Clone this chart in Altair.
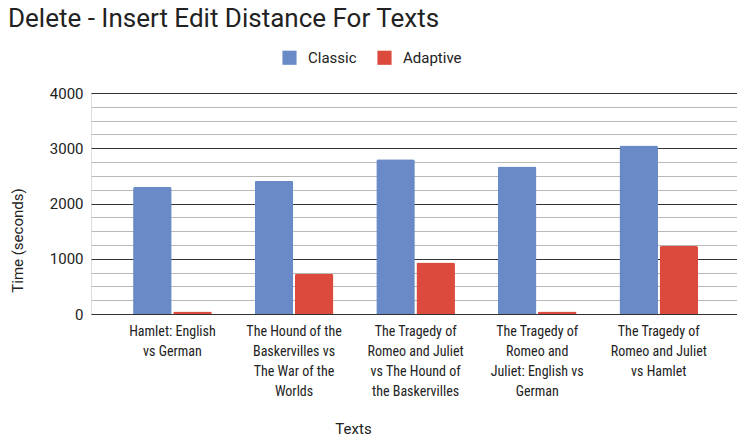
import altair as alt
import pandas as pd

# Category labels, one list of wrapped lines per text pair
text_lines = [
    ["Hamlet: English", "vs German"],
    ["The Hound of the", "Baskervilles vs", "The War of the", "Worlds"],
    ["The Tragedy of", "Romeo and Juliet", "vs The Hound of", "the Baskervilles"],
    ["The Tragedy of", "Romeo and", "Juliet: English vs", "German"],
    ["The Tragedy of", "Romeo and Juliet", "vs Hamlet"],
]
series = ["Classic", "Adaptive"]
classic_times = [2300, 2410, 2800, 2670, 3050]
adaptive_times = [45, 730, 930, 45, 1230]
y_ticks = list(range(0, 4001, 250))

categories = ["\n".join(lines) for lines in text_lines]
rows = []
for cat, c, a in zip(categories, classic_times, adaptive_times):
    rows.append({"text": cat, "method": "Classic", "time": c})
    rows.append({"text": cat, "method": "Adaptive", "time": a})
df = pd.DataFrame(rows)

FONT = "Roboto"
NARROW = "Liberation Sans Narrow, Roboto Condensed, Roboto"

bars = alt.Chart(df).mark_bar(
    cornerRadiusTopLeft=2, cornerRadiusTopRight=2
).encode(
    x=alt.X(
        "text:N",
        sort=categories,
        scale=alt.Scale(paddingInner=0.353, paddingOuter=0.333, align=0.52),
        axis=alt.Axis(
            title="Texts",
            labelAngle=0,
            labelExpr="split(datum.label, '\\n')",
            labelFont=NARROW,
            labelFontSize=14,
            labelColor="#222222",
            labelLineHeight=20,
            labelPadding=10,
            labelBaseline="top",
            labelLimit=200,
            ticks=False,
            domain=False,
            titleFont=FONT,
            titleFontSize=15,
            titleFontWeight="normal",
            titleColor="#222222",
            titleX=262,
            titleY=114,
            titleBaseline="middle",
        ),
    ),
    xOffset=alt.XOffset("method:N", sort=series, scale=alt.Scale(paddingInner=0.04)),
    y=alt.Y(
        "time:Q",
        scale=alt.Scale(domain=[0, 4000], nice=False),
        axis=alt.Axis(
            title="Time (seconds)",
            values=y_ticks,
            labelExpr="datum.value % 1000 === 0 ? datum.label : ''",
            format="d",
            labelFont=FONT,
            labelFontSize=15,
            labelColor="#222222",
            labelPadding=8,
            ticks=False,
            domain=False,
            gridColor={
                "condition": {"test": "datum.value % 1000 === 0", "value": "#333333"},
                "value": "#b8b8b8",
            },
            gridWidth=1,
            titleFont=FONT,
            titleFontSize=15,
            titleFontWeight="normal",
            titleColor="#222222",
            titleX=-74,
            titleY=147,
            titleAngle=-90,
            titleBaseline="middle",
            titleAlign="center",
        ),
    ),
    color=alt.Color(
        "method:N",
        sort=series,
        scale=alt.Scale(domain=series, range=["#6a8ac7", "#db4a3c"]),
        legend=alt.Legend(
            title=None,
            orient="none",
            direction="horizontal",
            legendX=191,
            legendY=-43,
            symbolType="square",
            symbolSize=200,
            symbolStrokeWidth=0,
            symbolOpacity=1,
            labelFont=FONT,
            labelFontSize=15,
            labelColor="#222222",
            labelOffset=11,
            columnPadding=20,
        ),
    ),
)

chart = bars.properties(
    width=646,
    height=221,
    title=alt.TitleParams(
        "Delete - Insert Edit Distance For Texts",
        anchor="start",
        font=FONT,
        fontSize=26,
        fontWeight="normal",
        color="#222222",
        frame="group",
        dx=-83,
        dy=-14,
    ),
    autosize=alt.AutoSizeParams(type="none"),
    padding={"left": 91, "top": 93, "right": 0, "bottom": 122},
).configure_view(stroke=None).configure(background="white")

chart.save("out.html", embed_options={"renderer": "svg", "actions": False})
